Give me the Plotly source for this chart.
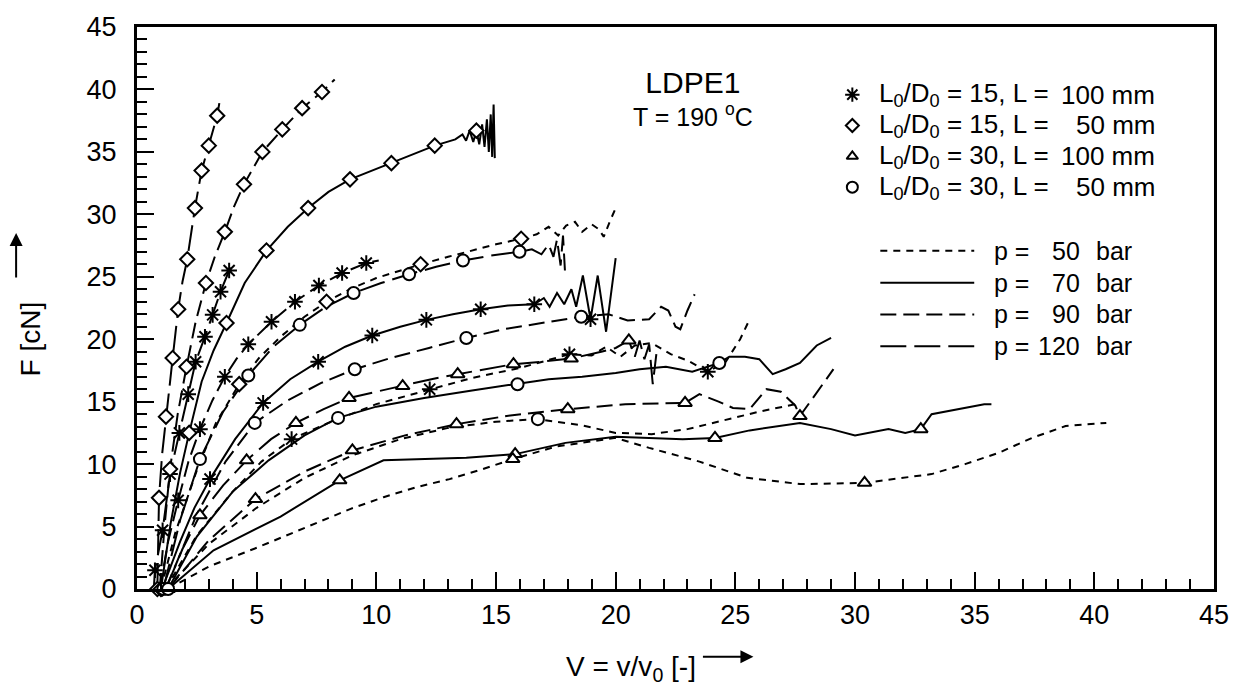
import plotly.graph_objects as go

# ---------------- measured curves: F [cN] vs V = v/v0 [-] ----------------
# L0/D0 = 15, L = 100 mm  (asterisks)
s120_x = [0.70, 0.75, 1.07, 1.38, 1.77, 2.14, 2.45, 2.84, 3.16, 3.49, 3.85, 3.95]
s120_y = [0.0, 1.5, 4.7, 9.2, 12.5, 15.6, 18.2, 20.2, 21.95, 23.8, 25.5, 25.9]
s120_m = [0, 1, 1, 1, 1, 1, 1, 1, 1, 1, 1, 0]

s90_x = [0.95, 1.3, 1.72, 2.15, 2.63, 3.15, 3.67, 4.15, 4.65, 5.62, 6.6, 7.6, 8.57, 9.58, 10.1]
s90_y = [0.0, 3.8, 7.1, 10.2, 12.8, 15.1, 17.0, 18.4, 19.6, 21.4, 23.0, 24.3, 25.3, 26.1, 26.3]
s90_m = [0, 0, 1, 0, 1, 0, 1, 0, 1, 1, 1, 1, 1, 1, 0]

s70_x = [1.05, 1.8, 2.4, 3.05, 4.1, 5.27, 6.4, 7.57, 8.7, 9.83, 11.0, 12.09, 13.2, 14.36, 15.5,
         16.6, 17.0, 17.24, 17.55, 17.85, 18.15, 18.35, 18.63, 18.95, 19.25, 19.6, 20.0]
s70_y = [0.0, 3.8, 6.5, 8.8, 12.0, 14.9, 16.8, 18.2, 19.4, 20.3, 21.0, 21.55, 22.0, 22.4, 22.7,
         22.8, 23.3, 22.6, 23.7, 22.8, 24.0, 22.6, 25.1, 21.6, 25.1, 20.6, 26.5]
s70_m = [1, 0, 0, 1, 0, 1, 0, 1, 0, 1, 0, 1, 0, 1, 0, 1, 0, 0, 0, 0, 0, 0, 0, 1, 0, 0, 0]

s50_x = [1.2, 2.5, 4.0, 5.2, 6.46, 8.0, 10.0, 12.23, 14.0, 16.0, 18.07, 19.0, 19.6, 20.2, 20.8,
         21.5, 22.3, 23.0, 23.85, 24.6, 25.2, 25.6]
s50_y = [0.0, 4.3, 7.8, 10.2, 12.0, 13.3, 14.8, 16.0, 16.9, 17.7, 18.8, 18.7, 19.4, 18.6, 19.5,
         19.7, 18.8, 18.3, 17.4, 18.2, 20.0, 21.6]
s50_m = [0, 0, 0, 0, 1, 0, 0, 1, 0, 0, 1, 0, 0, 0, 0, 0, 0, 0, 1, 0, 0, 0]

# L0/D0 = 15, L = 50 mm  (diamonds)
d120_x = [0.85, 0.92, 1.05, 1.21, 1.35, 1.49, 1.72, 1.90, 2.10, 2.42, 2.70, 3.00, 3.35, 3.44]
d120_y = [0.0, 7.3, 10.8, 13.8, 16.3, 18.5, 22.4, 24.6, 26.4, 30.5, 33.5, 35.5, 37.9, 38.9]
d120_m = [1, 1, 0, 1, 0, 1, 1, 0, 1, 1, 1, 1, 1, 0]

d90_x = [0.95, 1.15, 1.38, 1.70, 2.07, 2.45, 2.88, 3.25, 3.67, 4.05, 4.47, 5.24, 6.07, 6.90, 7.73, 8.26]
d90_y = [0.0, 5.0, 9.6, 14.0, 17.8, 21.4, 24.5, 26.6, 28.6, 30.6, 32.4, 35.0, 36.8, 38.5, 39.8, 40.8]
d90_m = [0, 0, 1, 0, 1, 0, 1, 0, 1, 0, 1, 1, 1, 1, 1, 0]

d70_x = [1.0, 1.4, 1.8, 2.18, 2.7, 3.2, 3.74, 4.5, 5.41, 6.3, 7.15, 8.0, 8.9, 9.8, 10.63, 11.5,
         12.44, 13.3, 13.6, 13.75, 13.9, 14.05, 14.18, 14.3, 14.42, 14.52, 14.62, 14.70, 14.78,
         14.84, 14.90, 14.95]
d70_y = [0.0, 5.2, 9.3, 12.5, 16.6, 19.1, 21.3, 24.5, 27.1, 29.0, 30.5, 31.8, 32.8, 33.5, 34.1, 34.8,
         35.5, 36.0, 36.4, 35.9, 36.7, 35.8, 36.7, 35.6, 37.2, 35.4, 37.6, 35.0, 38.0,
         34.6, 38.8, 34.5]
d70_m = [0, 0, 0, 1, 0, 0, 1, 0, 1, 0, 1, 0, 1, 0, 1, 0,
         1, 0, 0, 0, 0, 0, 1, 0, 0, 0, 0, 0, 0, 0, 0, 0]

d50_x = [1.0, 1.6, 2.5, 3.3, 4.27, 5.1, 6.0, 7.0, 7.92, 9.0, 10.0, 11.0, 11.85, 13.0, 14.0, 15.0,
         16.05, 16.7, 17.2, 17.6, 17.93, 18.3, 18.6, 19.0, 19.3, 19.5, 19.75, 20.0]
d50_y = [0.0, 4.5, 9.5, 13.3, 16.4, 18.5, 20.2, 21.8, 23.0, 24.1, 24.9, 25.5, 26.0, 26.6, 27.1, 27.6,
         28.05, 28.4, 29.0, 28.3, 29.1, 29.4, 28.6, 29.2, 28.8, 28.2, 29.4, 30.5]
d50_m = [1, 0, 0, 0, 1, 0, 0, 0, 1, 0, 0, 0, 1, 0, 0, 0,
         1, 0, 0, 0, 0, 0, 0, 0, 0, 0, 0, 0]

# L0/D0 = 30, L = 100 mm  (triangles)
t120_x = [1.2, 1.9, 2.63, 3.6, 4.58, 5.6, 6.64, 7.8, 8.86, 10.0, 11.1, 12.3, 13.4, 14.6, 15.73,
          16.9, 18.14, 19.4, 20.0, 20.55, 20.8, 21.0, 21.2, 21.4, 21.55, 21.7]
t120_y = [0.0, 3.2, 5.9, 8.3, 10.3, 12.0, 13.3, 14.4, 15.3, 15.8, 16.25, 16.8, 17.2, 17.6, 18.0,
          18.2, 18.45, 19.0, 19.3, 19.9, 18.6, 19.9, 18.4, 19.6, 16.4, 18.8]
t120_m = [1, 0, 1, 0, 1, 0, 1, 0, 1, 0, 1, 0, 1, 0, 1, 0, 1, 0, 0, 1, 0, 0, 0, 0, 0, 0]

t90_x = [1.3, 3.0, 4.95, 7.0, 9.0, 11.2, 13.35, 15.6, 18.0, 20.4, 22.9, 23.5, 24.3, 24.9, 25.6,
         26.3, 26.9, 27.5, 27.7, 28.4, 29.1]
t90_y = [0.0, 3.9, 7.2, 9.4, 11.1, 12.3, 13.2, 13.9, 14.4, 14.8, 14.9, 15.6, 15.0, 14.5, 14.4,
         16.0, 15.8, 14.7, 13.85, 15.7, 17.6]
t90_m = [0, 0, 1, 0, 1, 0, 1, 0, 1, 0, 1, 0, 0, 0, 0, 0, 0, 0, 1, 0, 0]

t70_x = [1.3, 3.2, 6.0, 8.47, 10.3, 12.0, 13.76, 15.8, 17.9, 20.0, 22.8, 24.15, 25.6, 27.7, 29.0,
         30.0, 31.4, 32.1, 32.75, 33.2, 34.3, 35.4, 35.7]
t70_y = [0.0, 3.1, 5.8, 8.7, 10.3, 10.4, 10.5, 10.8, 11.7, 12.2, 12.0, 12.1, 12.7, 13.3, 12.8,
         12.3, 12.8, 12.5, 12.8, 14.0, 14.4, 14.8, 14.8]
t70_m = [0, 0, 0, 1, 0, 0, 0, 1, 0, 0, 0, 1, 0, 0, 0, 0, 0, 0, 1, 0, 0, 0, 0]

t50_x = [1.3, 3.0, 5.0, 7.0, 8.9, 10.3, 11.67, 13.06, 14.45, 15.7, 17.5, 20.0, 21.4, 23.5, 25.5,
         27.7, 30.4, 33.2, 34.6, 36.0, 37.4, 38.8, 40.5]
t50_y = [0.0, 1.8, 3.3, 4.9, 6.4, 7.35, 8.15, 8.8, 9.6, 10.4, 11.4, 12.1, 11.3, 10.2, 8.9,
         8.4, 8.5, 9.2, 10.0, 10.9, 12.1, 13.05, 13.3]
t50_m = [1, 0, 0, 0, 0, 0, 0, 0, 0, 1, 0, 0, 0, 0, 0, 0, 1, 0, 0, 0, 0, 0, 0]

# L0/D0 = 30, L = 50 mm  (circles)
c120_x = [1.1, 1.8, 2.63, 3.6, 4.65, 5.7, 6.8, 7.9, 9.05, 10.2, 11.37, 12.5, 13.62, 14.8, 15.98,
          16.5, 16.9, 17.2, 17.4, 17.55, 17.7, 17.8, 17.88]
c120_y = [0.0, 5.5, 10.4, 14.2, 17.1, 19.4, 21.15, 22.6, 23.7, 24.5, 25.2, 25.8, 26.3, 26.7, 27.0,
          27.2, 26.8, 27.6, 26.6, 28.0, 25.9, 28.3, 25.5]
c120_m = [1, 0, 1, 0, 1, 0, 1, 0, 1, 0, 1, 0, 1, 0, 1, 0, 0, 0, 0, 0, 0, 0, 0]

c90_x = [1.2, 2.5, 3.7, 4.92, 6.3, 7.7, 9.1, 10.6, 12.2, 13.76, 15.3, 16.9, 18.56, 19.7, 20.5,
         21.4, 21.9, 22.2, 22.5, 22.7, 23.0, 23.3]
c90_y = [0.0, 6.0, 10.2, 13.3, 15.1, 16.5, 17.6, 18.5, 19.3, 20.1, 20.8, 21.3, 21.8, 22.0, 21.5,
         21.6, 22.6, 22.3, 21.0, 20.8, 22.3, 23.6]
c90_m = [0, 0, 0, 1, 0, 0, 1, 0, 0, 1, 0, 0, 1, 0, 0, 0, 0, 0, 0, 0, 0, 0]

c70_x = [1.3, 2.5, 4.0, 5.5, 7.0, 8.4, 10.0, 12.0, 14.0, 15.9, 17.2, 18.6, 20.0, 21.0, 22.1, 23.2,
         24.33, 24.75, 25.4, 26.0, 26.56, 27.1, 27.7, 28.4, 29.0]
c70_y = [0.0, 4.2, 7.8, 10.3, 12.3, 13.7, 14.6, 15.3, 15.9, 16.4, 16.8, 17.0, 17.3, 17.6, 17.8, 17.4,
         18.1, 18.6, 18.6, 18.4, 17.2, 17.6, 18.1, 19.5, 20.1]
c70_m = [1, 0, 0, 0, 0, 1, 0, 0, 0, 1, 0, 0, 0, 0, 0, 0, 1, 0, 0, 0, 0, 0, 0, 0, 0]

c50_x = [1.2, 3.0, 5.0, 7.0, 9.0, 11.0, 13.0, 15.0, 16.75, 18.6, 20.0, 21.5, 23.0, 24.5, 26.0, 27.5]
c50_y = [0.0, 3.6, 6.5, 8.9, 10.7, 12.0, 12.9, 13.4, 13.6, 13.1, 12.5, 12.4, 12.8, 13.5, 14.2, 14.8]
c50_m = [0, 0, 0, 0, 0, 0, 0, 0, 1, 0, 0, 0, 0, 0, 0, 0]

# ---------------- styles ----------------
FONT = "Liberation Sans, Arial, Helvetica, sans-serif"
DASH = {50: "7px,6px", 70: "solid", 90: "16px,7px", 120: "26px,8px"}
SYMBOL = {
    "s": dict(symbol="asterisk-open", size=13, color="black", line=dict(color="black", width=2)),
    "d": dict(symbol="diamond", size=11, color="white", line=dict(color="black", width=2)),
    "t": dict(symbol="triangle-up", size=12, color="white", line=dict(color="black", width=2)),
    "c": dict(symbol="circle", size=12, color="white", line=dict(color="black", width=2)),
}
KEY_SIZE = {"s": 12, "d": 10, "t": 10, "c": 11}

curves = [
    ("s", 120, s120_x, s120_y, s120_m), ("s", 90, s90_x, s90_y, s90_m),
    ("s", 70, s70_x, s70_y, s70_m), ("s", 50, s50_x, s50_y, s50_m),
    ("d", 120, d120_x, d120_y, d120_m), ("d", 90, d90_x, d90_y, d90_m),
    ("d", 70, d70_x, d70_y, d70_m), ("d", 50, d50_x, d50_y, d50_m),
    ("t", 120, t120_x, t120_y, t120_m), ("t", 90, t90_x, t90_y, t90_m),
    ("t", 70, t70_x, t70_y, t70_m), ("t", 50, t50_x, t50_y, t50_m),
    ("c", 120, c120_x, c120_y, c120_m), ("c", 90, c90_x, c90_y, c90_m),
    ("c", 70, c70_x, c70_y, c70_m), ("c", 50, c50_x, c50_y, c50_m),
]

fig = go.Figure()

# lines first
for key, p, xs, ys, ms in curves:
    fig.add_trace(go.Scatter(x=xs, y=ys, mode="lines", hoverinfo="skip",
                             line=dict(color="black", width=2, dash=DASH[p])))
# symbols on top
for key, p, xs, ys, ms in curves:
    mx = [x for x, m in zip(xs, ms) if m]
    my = [y for y, m in zip(ys, ms) if m]
    fig.add_trace(go.Scatter(x=mx, y=my, mode="markers", hoverinfo="skip",
                             marker=SYMBOL[key], cliponaxis=False))

# ---------------- key (drawn on an overlay 0..1 frame) ----------------
PX_L, PX_R, PX_T, PX_B = 137, 1215, 24, 589


def px2paper(px, py):
    return (px - PX_L) / (PX_R - PX_L), (PX_B - py) / (PX_B - PX_T)


KEY_FONT = dict(size=26)
P_FONT = dict(size=25)
key_rows = [("s", "15", "100 mm", 92), ("d", "15", "50 mm", 123),
            ("t", "30", "100 mm", 154), ("c", "30", "50 mm", 185)]
annotations = []
for key, ld, length, py in key_rows:
    gx, gy = px2paper(853, py)
    kstyle = dict(SYMBOL[key])
    kstyle["size"] = KEY_SIZE[key]
    fig.add_trace(go.Scatter(x=[gx], y=[gy], xaxis="x2", yaxis="y2", mode="markers",
                             hoverinfo="skip", marker=kstyle, cliponaxis=False))
    tx, ty = px2paper(878, py)
    annotations.append(dict(x=tx, y=ty, xref="paper", yref="paper", xanchor="left", yanchor="middle",
                            text=f"L<sub>0</sub>/D<sub>0</sub> = {ld}, L =", showarrow=False,
                            font=KEY_FONT))
    rx, _ = px2paper(1158, py)
    annotations.append(dict(x=rx, y=ty, xref="paper", yref="paper", xanchor="right", yanchor="middle",
                            text=length, showarrow=False, font=KEY_FONT))

shapes = []
for p, py in [(50, 249), (70, 281), (90, 313), (120, 345)]:
    x0, y0 = px2paper(881, py)
    x1, _ = px2paper(975, py)
    shapes.append(dict(type="line", xref="paper", yref="paper", x0=x0, x1=x1, y0=y0, y1=y0,
                       line=dict(color="black", width=2, dash=DASH[p])))
    ax_, ay_ = px2paper(993, py)
    annotations.append(dict(x=ax_, y=ay_, xref="paper", yref="paper", xanchor="left", yanchor="middle",
                            text="p =", showarrow=False, font=P_FONT))
    nx, _ = px2paper(1083, py)
    annotations.append(dict(x=nx, y=ay_, xref="paper", yref="paper", xanchor="right", yanchor="middle",
                            text=str(p), showarrow=False, font=P_FONT))
    bx, _ = px2paper(1095, py)
    annotations.append(dict(x=bx, y=ay_, xref="paper", yref="paper", xanchor="left", yanchor="middle",
                            text="bar", showarrow=False, font=P_FONT))

# title block: material name with test temperature below
lx, ly = px2paper(694, 96)
annotations.append(dict(x=lx, y=ly, xref="paper", yref="paper", xanchor="center", yanchor="middle",
                        align="center",
                        text="<span style='font-size:30px'>LDPE1</span><br>T = 190 <sup>o</sup>C",
                        showarrow=False, font=dict(size=25)))

# axis titles with arrows
vx, vy = px2paper(631, 669)
annotations.append(dict(x=vx, y=vy, xref="paper", yref="paper", xanchor="center", yanchor="middle",
                        text="V = v/v<sub>0</sub> [-]", showarrow=False, font=dict(size=28)))
hx, hy = px2paper(754, 657)
annotations.append(dict(x=hx, y=hy, xref="paper", yref="paper", ax=-52, ay=0, text="",
                        showarrow=True, arrowhead=2, arrowsize=1.3, arrowwidth=2, arrowcolor="black"))
fx, fy = px2paper(30, 338)
annotations.append(dict(x=fx, y=fy, xref="paper", yref="paper", xanchor="center", yanchor="middle",
                        text="F [cN]", textangle=-90, showarrow=False, font=dict(size=28)))
ux, uy = px2paper(16, 231)
annotations.append(dict(x=ux, y=uy, xref="paper", yref="paper", ax=0, ay=46, text="",
                        showarrow=True, arrowhead=2, arrowsize=1.3, arrowwidth=2, arrowcolor="black"))

axis_common = dict(
    showline=True, linewidth=3, linecolor="black", mirror=True,
    ticks="inside", ticklen=17, tickwidth=2, tickcolor="black",
    minor=dict(ticks="inside", ticklen=10, tickwidth=1.5, dtick=1, tickcolor="black"),
    showgrid=False, zeroline=False,
    tickfont=dict(size=27, color="black"),
)

fig.update_layout(
    width=1241, height=693,
    margin=dict(l=PX_L, r=1241 - PX_R, t=PX_T, b=693 - PX_B),
    paper_bgcolor="white", plot_bgcolor="white",
    font=dict(family=FONT, color="black"),
    showlegend=False, hovermode=False,
    xaxis=dict(range=[0, 45], tickvals=list(range(0, 46, 5)), ticklabelstandoff=0, **axis_common),
    yaxis=dict(range=[0, 45], tickvals=list(range(0, 46, 5)), ticklabelstandoff=12, **axis_common),
    xaxis2=dict(range=[0, 1], overlaying="x", visible=False),
    yaxis2=dict(range=[0, 1], overlaying="y", visible=False),
    annotations=annotations,
    shapes=shapes,
)

fig.write_html("out.html")
